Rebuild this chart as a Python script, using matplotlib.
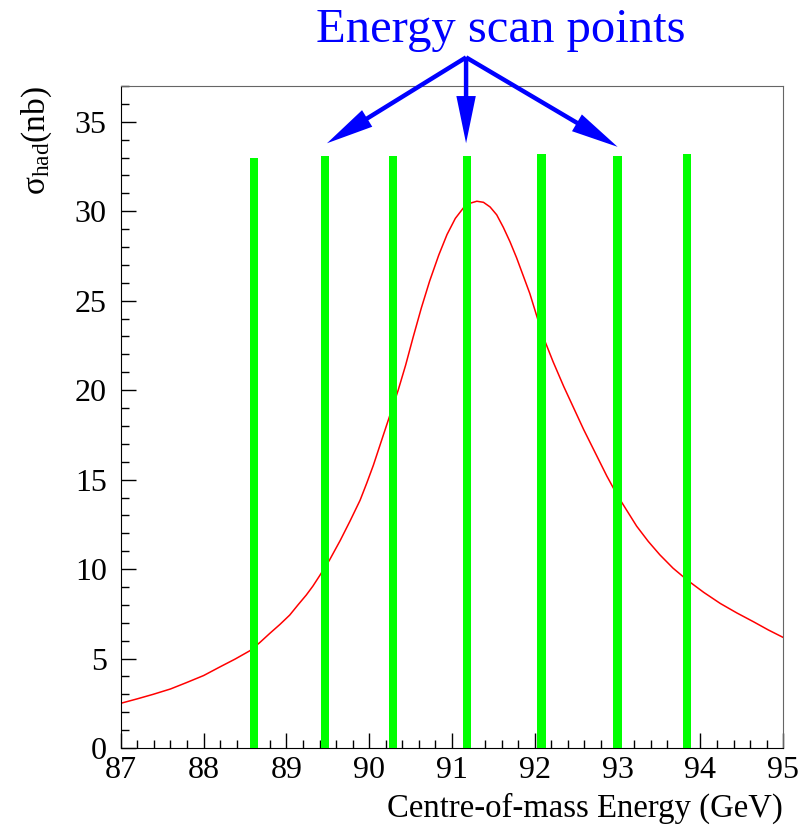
import numpy as np
import matplotlib
matplotlib.use("Agg")
import matplotlib.pyplot as plt
from matplotlib.patches import FancyArrowPatch
from matplotlib.ticker import MultipleLocator

plt.rcParams['font.family'] = ['Liberation Serif', 'DejaVu Serif']
plt.rcParams['mathtext.fontset'] = 'custom'
plt.rcParams['mathtext.rm'] = 'Liberation Serif'
plt.rcParams['mathtext.it'] = 'Liberation Serif:italic'

# lineshape
curveE = [87.0, 87.2, 87.39, 87.6, 87.79, 88.0, 88.20, 88.38, 88.56, 88.68,
          88.80, 88.92, 89.04, 89.14, 89.24, 89.32, 89.40, 89.52, 89.65, 89.77,
          89.89, 89.97, 90.05, 90.15, 90.25, 90.35, 90.44, 90.53, 90.63, 90.73,
          90.84, 90.94, 91.04, 91.14, 91.22, 91.30, 91.38, 91.46, 91.54, 91.62,
          91.70, 91.78, 91.86, 91.94, 92.02, 92.10, 92.22, 92.35, 92.47, 92.59,
          92.73, 92.87, 93.0, 93.23, 93.37, 93.51, 93.67, 93.84, 94.04, 94.24,
          94.44, 94.64, 94.82, 95.0]
curveSigma = [2.50, 2.75, 3.00, 3.30, 3.65, 4.05, 4.54, 4.97, 5.44, 5.90,
              6.41, 6.90, 7.43, 8.00, 8.55, 9.05, 9.62, 10.5, 11.6, 12.7,
              13.85, 14.8, 15.8, 17.2, 18.6, 20.0, 21.4, 22.95, 24.6, 26.1,
              27.55, 28.7, 29.6, 30.2, 30.45, 30.56, 30.5, 30.24, 29.8, 29.1,
              28.3, 27.4, 26.4, 25.4, 24.2, 23.0, 21.6, 20.2, 19.0, 17.8,
              16.5, 15.2, 14.1, 12.4, 11.55, 10.8, 10.05, 9.39, 8.7, 8.08,
              7.55, 7.06, 6.6, 6.18]

# scan points
scanE = [88.61, 89.47, 90.29, 91.18, 92.08, 93.00, 93.84]
scanHeight = [33.0, 33.1, 33.1, 33.1, 33.2, 33.1, 33.2]

# arrows: apex and the three targets
apex = (91.17, 38.6)
targets = [(89.49, 33.8), (91.17, 33.8), (93.00, 33.6)]

fig = plt.figure(figsize=(8.0, 8.27), dpi=100)
ax = fig.add_axes([0.151, 0.0955, 0.828, 0.8005])

ax.plot(curveE, curveSigma, color="red", lw=1.1, zorder=2)
ax.bar(scanE, scanHeight, width=0.1, color="#00ff00", zorder=3)

ax.set_xlim(87, 95)
ax.set_ylim(0, 37)
ax.xaxis.set_major_locator(MultipleLocator(1))
ax.xaxis.set_minor_locator(MultipleLocator(0.2))
ax.yaxis.set_major_locator(MultipleLocator(5))
ax.yaxis.set_minor_locator(MultipleLocator(1))
ax.tick_params(which="both", direction="in", top=False, right=False,
               labelsize=23, width=1.0, color="black")
ax.tick_params(which="major", length=11, pad=6)
ax.tick_params(which="minor", length=6)
ax.tick_params(axis="y", which="major", pad=10)
for s in ["top", "right"]:
  ax.spines[s].set_color("#666666")
for s in ["left", "bottom"]:
  ax.spines[s].set_color("black")

ax.set_xlabel("Centre-of-mass Energy (GeV)", fontsize=23.6, loc="right", labelpad=5)
fig.text(0.046, 0.83, "σ$_{\\mathrm{had}}$(nb)", rotation=90, fontsize=24,
         ha="center", va="center")

fig.text(0.626, 0.949, "Energy scan points", color="#0000ff", fontsize=35,
         ha="center", va="baseline")

for tgt in targets:
  arrow = FancyArrowPatch(apex, tgt,
                          arrowstyle="simple,head_length=1.7,head_width=0.7,tail_width=0.16",
                          mutation_scale=20, facecolor="#0000ff", edgecolor="none",
                          lw=0, shrinkA=0, shrinkB=0, clip_on=False, zorder=5)
  ax.add_patch(arrow)

fig.savefig("out.png", dpi=100)
